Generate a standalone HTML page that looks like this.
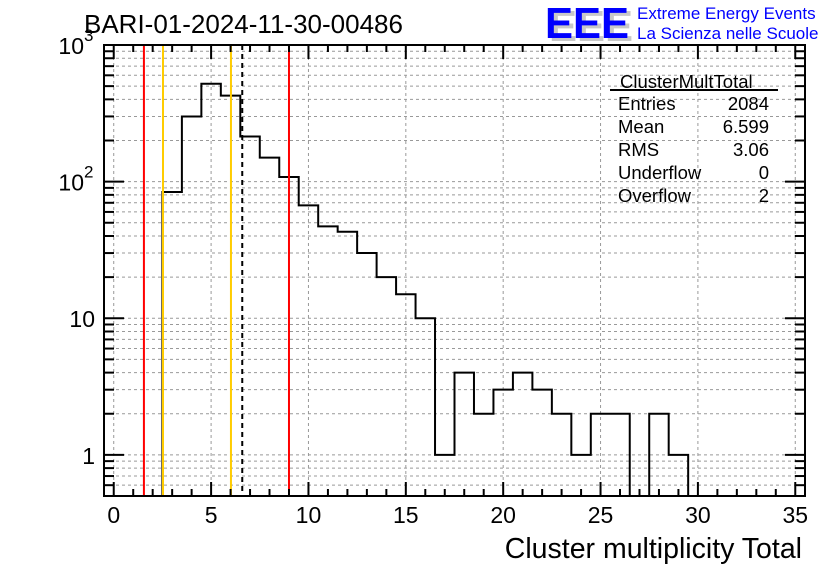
<!DOCTYPE html>
<html><head><meta charset="utf-8"><style>
body{margin:0;background:#fff;}
svg{display:block;font-family:"Liberation Sans",sans-serif;}
</style></head><body>
<svg id="c" width="836" height="572" viewBox="0 0 836 572">
<text x="84" y="33" font-size="26">BARI-01-2024-11-30-00486</text>
<g>
<text x="549" y="41" font-size="44" font-weight="bold" fill="#c8c8c8" textLength="84" lengthAdjust="spacingAndGlyphs">EEE</text>
<text x="545" y="38" font-size="44" font-weight="bold" fill="#0000ff" textLength="84" lengthAdjust="spacingAndGlyphs">EEE</text>
<text x="637" y="19" font-size="17" fill="#0000ff">Extreme Energy Events</text>
<text x="637" y="39" font-size="17" fill="#0000ff">La Scienza nelle Scuole</text>
</g>
<text x="802" y="558" font-size="28.5" text-anchor="end">Cluster multiplicity Total</text>
</svg>
<script>
const binCenters=[3,4,5,6,7,8,9,10,11,12,13,14,15,16,17,18,19,20,21,22,23,24,25,26,27,28,29];
const binCounts=[84,300,520,426,214,150,108,67,47,43,30,20,15,10,1,4,2,3,4,3,2,1,2,2,0,2,1];
const xTicks=[0,5,10,15,20,25,30,35];
const yDecades=[1,10,100,1000];
const redLines=[1.55,9.0];
const orangeLines=[2.53,6.02];
const meanLine=[6.6];
const statsRows=[["Entries","2084"],["Mean","6.599"],["RMS","3.06"],["Underflow","0"],["Overflow","2"]];

const NS="http://www.w3.org/2000/svg";
const svg=document.getElementById('c');
const L=104,R=805,T=45,B=496,xmin=-0.5,xmax=35.5,ymin=0.5,ymax=1000;
const X=v=>L+(v-xmin)/(xmax-xmin)*(R-L);
const Y=v=>B-(Math.log10(v)-Math.log10(ymin))/(Math.log10(ymax)-Math.log10(ymin))*(B-T);
function el(t,a,p){const e=document.createElementNS(NS,t);for(const k in a)e.setAttribute(k,a[k]);(p||svg).appendChild(e);return e;}

const grid=el('g',{});


xTicks.forEach(t=>{el('line',{x1:X(t),x2:X(t),y1:T,y2:B,stroke:'#999','stroke-dasharray':'3,3','stroke-width':1},grid);});
for(let d=0;d<3;d++)for(let m=1;m<10;m++){const v=Math.pow(10,d)*m;if(v<ymin||v>ymax)continue;el('line',{x1:L,x2:R,y1:Y(v),y2:Y(v),stroke:'#999','stroke-dasharray':'3,3','stroke-width':1},grid);}
[0.5,0.6,0.7,0.8,0.9].forEach(v=>el('line',{x1:L,x2:R,y1:Y(v),y2:Y(v),stroke:'#999','stroke-dasharray':'3,3','stroke-width':1},grid));

let d='';
binCenters.forEach((c,i)=>{const v=binCounts[i];const yy=v>0?Y(v):B+10;const yc=Math.min(yy,B);
 if(i===0)d+=`M${X(c-0.5)},${B}`;d+=`L${X(c-0.5)},${yc}L${X(c+0.5)},${yc}`;});
d+=`L${X(binCenters[binCenters.length-1]+0.5)},${B}`;
const clip=el('clipPath',{id:'pc'});el('rect',{x:L,y:T,width:R-L,height:B-T},clip);
const h=el('path',{d:d,fill:'none',stroke:'#000','stroke-width':2,'clip-path':'url(#pc)'});



redLines.forEach(v=>{const l=el('line',{x1:X(v),x2:X(v),y1:T,y2:B,stroke:'#ff0000','stroke-width':2});

});
orangeLines.forEach(v=>{const l=el('line',{x1:X(v),x2:X(v),y1:T,y2:B,stroke:'#ffcc00','stroke-width':2});

});
meanLine.forEach(v=>{const l=el('line',{x1:X(v),x2:X(v),y1:T,y2:B,stroke:'#000','stroke-width':2,'stroke-dasharray':'5,4'});

});

const ax=el('g',{});


el('rect',{x:L,y:T,width:R-L,height:B-T,fill:'none',stroke:'#000','stroke-width':2},ax);
for(let v=0;v<=35;v++){const big=v%5===0;const len=big?14:7;
 el('line',{x1:X(v),x2:X(v),y1:B,y2:B-len,stroke:'#000','stroke-width':2},ax);
 el('line',{x1:X(v),x2:X(v),y1:T,y2:T+len,stroke:'#000','stroke-width':2},ax);}
xTicks.forEach(t=>{const tx=el('text',{x:X(t),y:523,'font-size':23,'text-anchor':'middle'},ax);tx.textContent=t;

});
const minorVals=[0.5,0.6,0.7,0.8,0.9];for(let dd=0;dd<3;dd++)for(let m=2;m<10;m++)minorVals.push(Math.pow(10,dd)*m);
minorVals.forEach(v=>{el('line',{x1:L,x2:L+10,y1:Y(v),y2:Y(v),stroke:'#000','stroke-width':2},ax);el('line',{x1:R,x2:R-10,y1:Y(v),y2:Y(v),stroke:'#000','stroke-width':2},ax);});
yDecades.forEach(v=>{el('line',{x1:L,x2:L+20,y1:Y(v),y2:Y(v),stroke:'#000','stroke-width':2},ax);el('line',{x1:R,x2:R-20,y1:Y(v),y2:Y(v),stroke:'#000','stroke-width':2},ax);});
const yl=[["1",""],["10",""],["10","2"],["10","3"]];
yDecades.forEach((v,i)=>{const t=el('text',{x:95,y:Y(v)+9,'font-size':23,'text-anchor':'end'},ax);
 
 
 if(yl[i][1]){t.setAttribute('x',84);t.textContent=yl[i][0];const s=el('text',{x:84,y:Y(v)-4,'font-size':17},ax);s.textContent=yl[i][1];}
 else{t.textContent=yl[i][0];}});

const sb=el('g',{});


const st=el('text',{x:620,y:88,'font-size':18.5},sb);st.textContent='ClusterMultTotal';
el('line',{x1:610,x2:778,y1:90,y2:90,stroke:'#000','stroke-width':2},sb);
statsRows.forEach((r,i)=>{const y=110+i*23;const a=el('text',{x:618,y:y,'font-size':18.5},sb);a.textContent=r[0];
 const b=el('text',{x:769,y:y,'font-size':18.5,'text-anchor':'end'},sb);b.textContent=r[1];});
</script>
</body></html>
